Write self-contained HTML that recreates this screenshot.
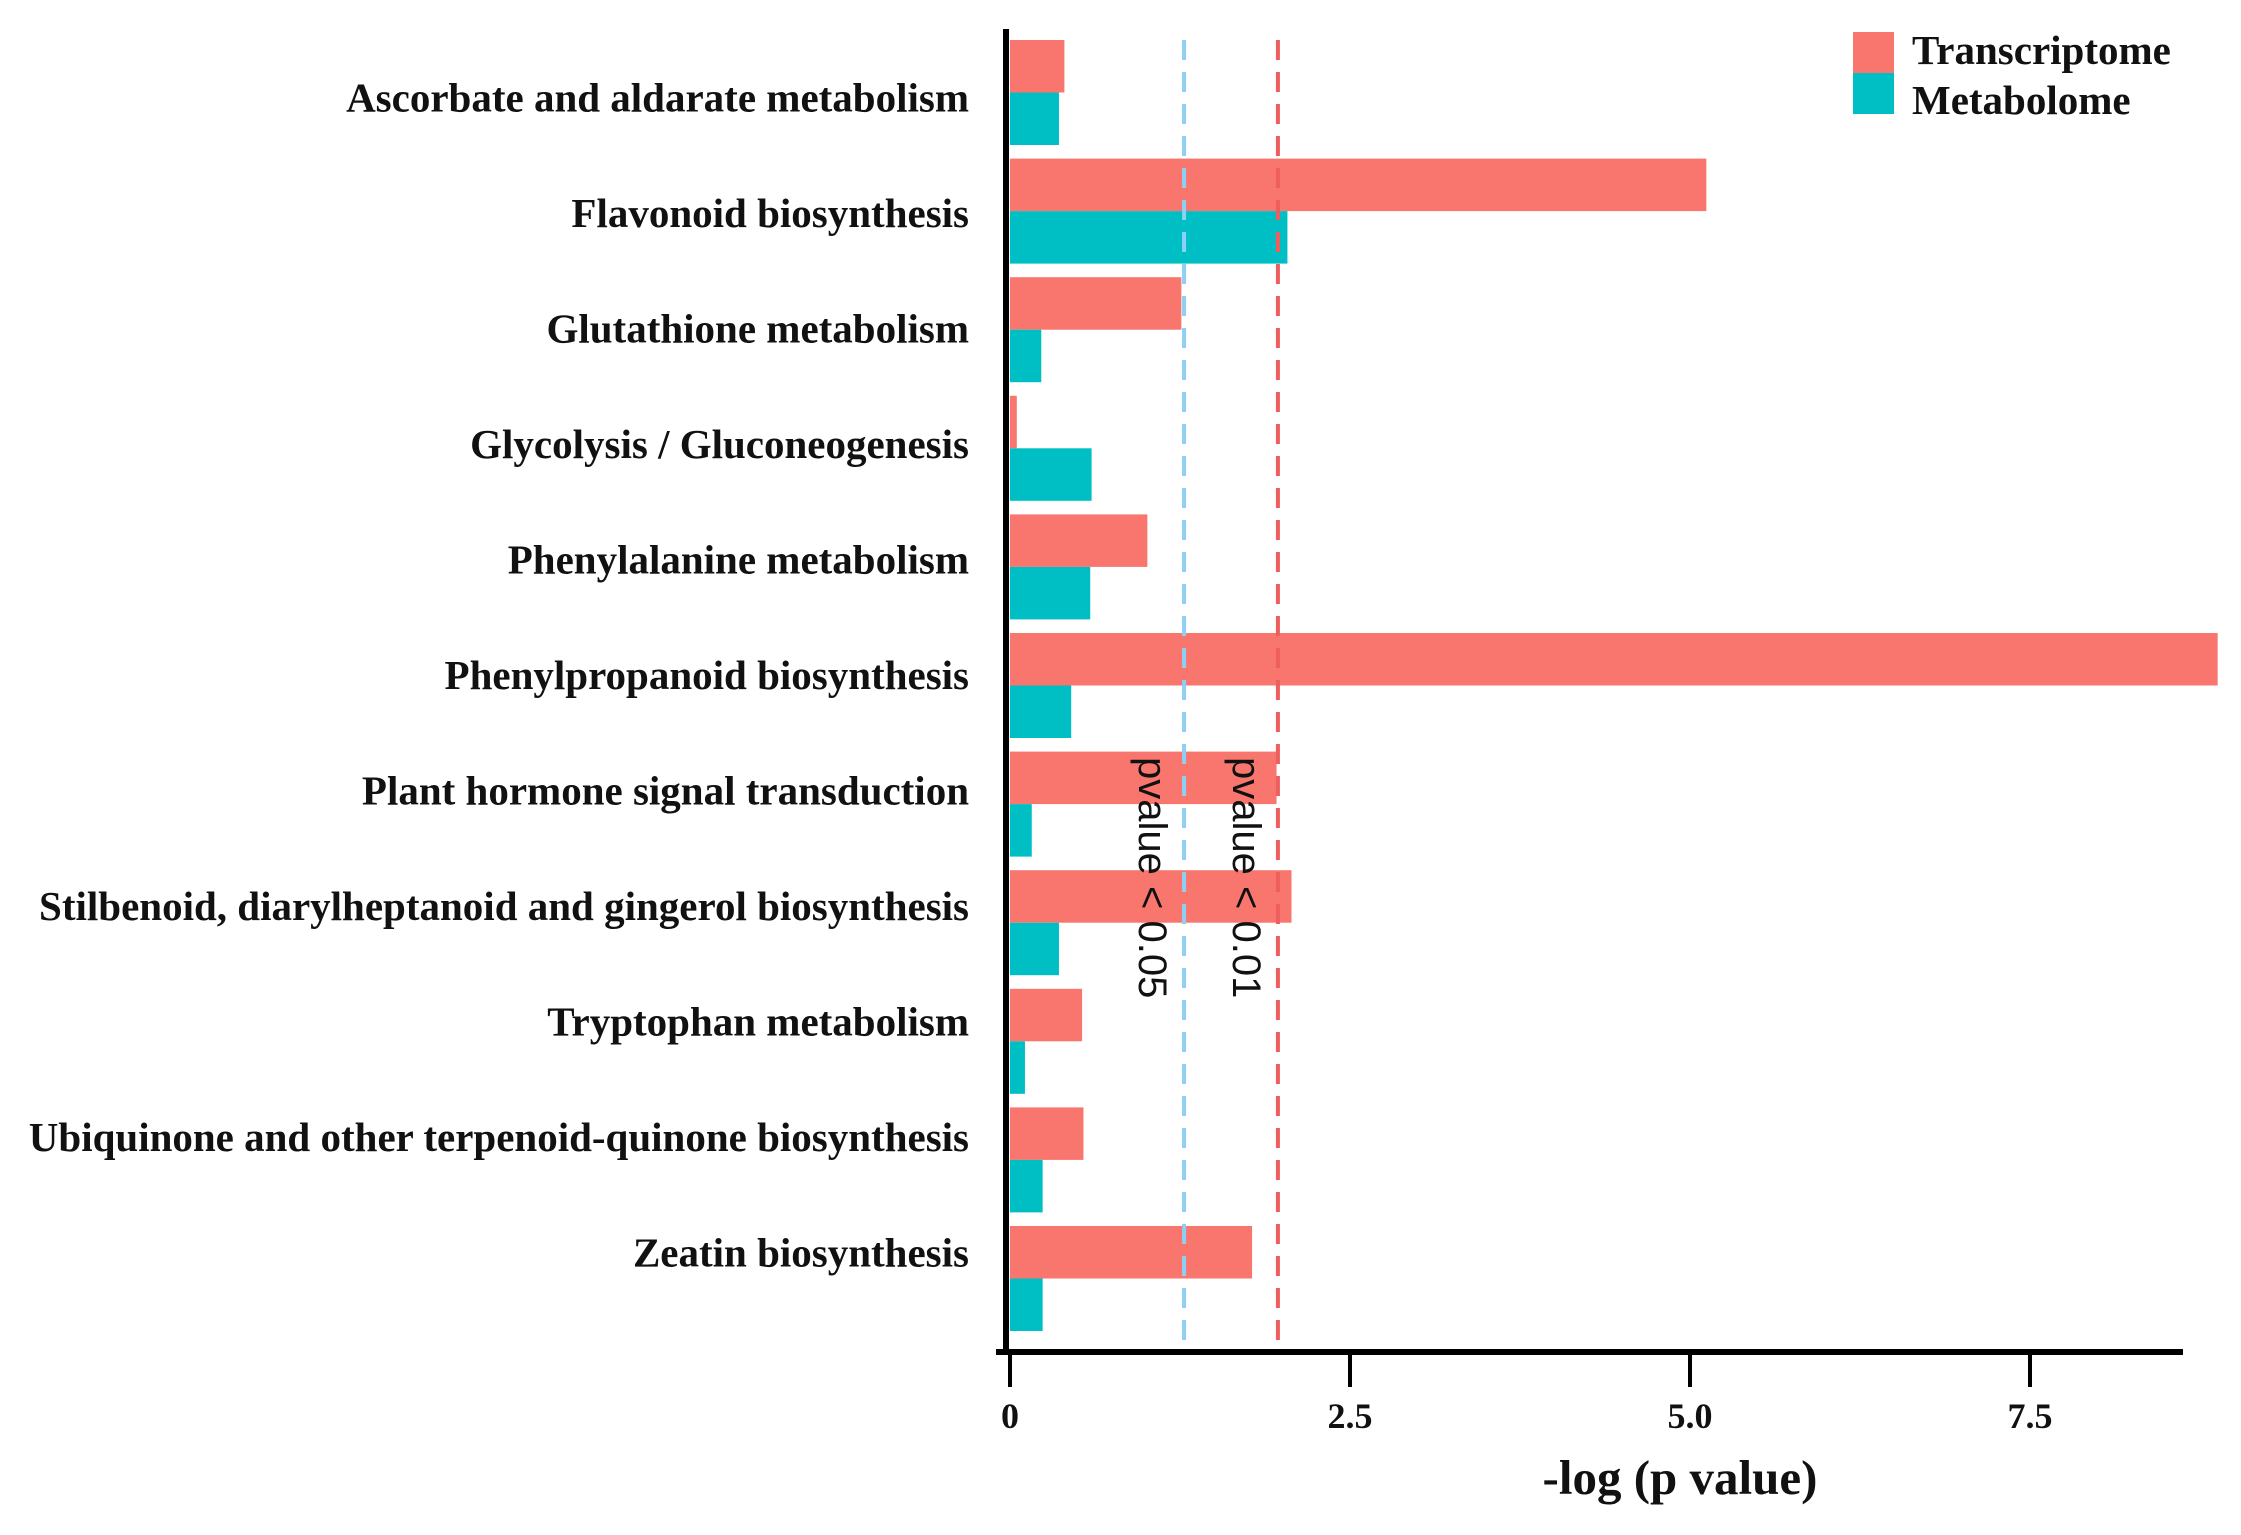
<!DOCTYPE html>
<html><head><meta charset="utf-8"><style>
html,body{margin:0;padding:0;background:#fff;}
svg{display:block;}
.lab{font-family:"Liberation Serif",serif;font-weight:bold;font-size:41px;fill:#111;}
</style></head><body>
<svg id="chart" width="2241" height="1535" viewBox="0 0 2241 1535" xmlns="http://www.w3.org/2000/svg">
<g id="marks"></g>
</svg>
<script>
const categories = ["Ascorbate and aldarate metabolism","Flavonoid biosynthesis","Glutathione metabolism","Glycolysis / Gluconeogenesis","Phenylalanine metabolism","Phenylpropanoid biosynthesis","Plant hormone signal transduction","Stilbenoid, diarylheptanoid and gingerol biosynthesis","Tryptophan metabolism","Ubiquinone and other terpenoid-quinone biosynthesis","Zeatin biosynthesis"];
const transcriptome = [0.40,5.12,1.26,0.05,1.01,8.88,1.96,2.07,0.53,0.54,1.78];
const metabolome = [0.36,2.04,0.23,0.60,0.59,0.45,0.16,0.36,0.11,0.24,0.24];
const xTicks = [0,2.5,5.0,7.5];
const xTickLabels = ["0","2.5","5.0","7.5"];
const thresholds = [1.28,1.97];
const thresholdLabels = ["pvalue < 0.05","pvalue < 0.01"];

const NS="http://www.w3.org/2000/svg";
const g=document.getElementById('marks');
const X0=1010, K=136;
function xScale(v){return X0+v*K;}
const TOP=40, PITCH=118.6, BH=52.5;
function yScale(i){return TOP+i*PITCH;}
function labelY(i){return 98.6+i*115.5;}
function mk(tag,attrs,parent){const e=document.createElementNS(NS,tag);for(const k in attrs)e.setAttribute(k,attrs[k]);(parent||g).appendChild(e);return e;}

categories.forEach((c,i)=>{
  const y=yScale(i);
  const r=mk('rect',{x:X0,y:y,width:xScale(transcriptome[i])-X0,height:BH,fill:'#F8766D'});
  
  
  const t=mk('rect',{x:X0,y:y+BH,width:xScale(metabolome[i])-X0,height:BH,fill:'#00BFC4'});
  
  
  const l=mk('text',{x:969,y:labelY(i)+13,'text-anchor':'end','class':'lab'});
  l.textContent=c;
  
  
});

const tcol=['#8ECFF5','#EE5E5E'];
thresholds.forEach((v,i)=>{
  const x=xScale(v);
  const ln=mk('line',{x1:x,x2:x,y1:40,y2:1350,stroke:tcol[i],'stroke-width':4,'stroke-dasharray':'20 12'});
  
  
  const tx=mk('text',{x:0,y:0,transform:'translate('+(x-45)+',757) rotate(90)','font-family':'"Liberation Sans",sans-serif','font-size':'40','fill':'#111'});
  tx.textContent=thresholdLabels[i];
  
  
});

const ya=mk('line',{x1:1006,x2:1006,y1:29,y2:1355,stroke:'#000','stroke-width':6});


const xa=mk('line',{x1:996,x2:2183,y1:1352,y2:1352,stroke:'#000','stroke-width':6});



xTicks.forEach((v,i)=>{
  const x=xScale(v);
  const tk=mk('line',{x1:x,x2:x,y1:1352,y2:1387,stroke:'#000','stroke-width':4});
  
  
  const tl=mk('text',{x:x,y:1428,'text-anchor':'middle','font-family':'"Liberation Serif",serif','font-weight':'bold','font-size':'36','fill':'#111'});
  tl.textContent=xTickLabels[i];
  
  
});

const at=mk('text',{x:1680,y:1494,'text-anchor':'middle','font-family':'"Liberation Serif",serif','font-weight':'bold','font-size':'49','fill':'#111'});
at.textContent='-log (p value)';



const legend=[['Transcriptome','#F8766D'],['Metabolome','#00BFC4']];
legend.forEach((e,i)=>{
  const y=32+i*41;
  const s=mk('rect',{x:1853,y:y,width:41,height:41,fill:e[1]});
  
  
  const t=mk('text',{x:1912,y:64+i*50,'font-family':'"Liberation Serif",serif','font-weight':'bold','font-size':'41','fill':'#111'});
  t.textContent=e[0];
  
  
});
</script>
</body></html>
